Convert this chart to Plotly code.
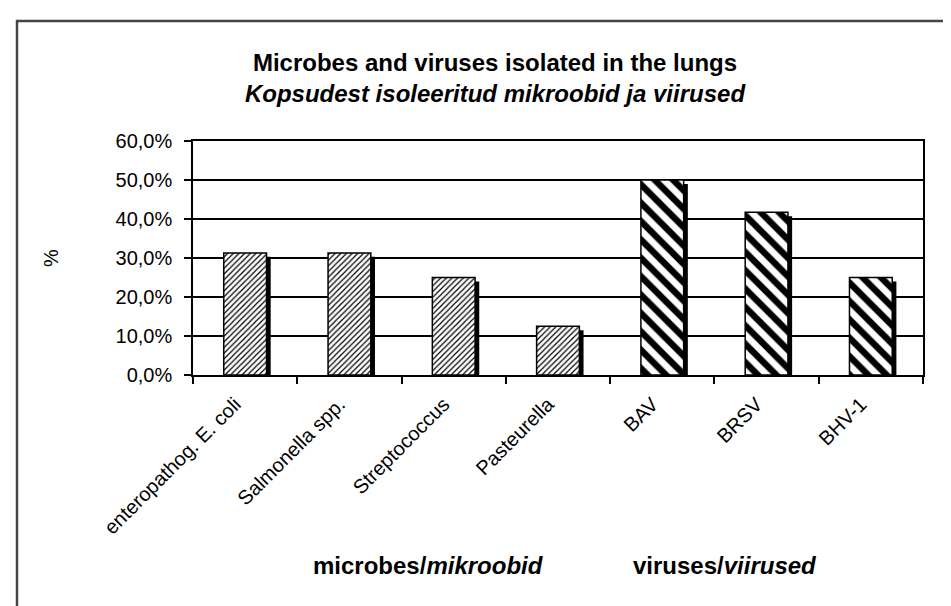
import plotly.graph_objects as go

categories = ["enteropathog. E. coli", "Salmonella spp.", "Streptococcus", "Pasteurella",
              "BAV", "BRSV", "BHV-1"]
microbe_names = ["enteropathog. E. coli", "Salmonella spp.", "Streptococcus", "Pasteurella"]
microbe_values = [0.313, 0.313, 0.250, 0.125]
virus_names = ["BAV", "BRSV", "BHV-1"]
virus_values = [0.500, 0.417, 0.250]
y_ticks = [0.0, 0.1, 0.2, 0.3, 0.4, 0.5, 0.6]

FONT = "Arial, Liberation Sans, sans-serif"
BAR_W = 0.41
SHIFT_X = 0.04    # shadow offset (category units)
SHIFT_Y = -0.01   # shadow drop (value units)

fig = go.Figure()

# shadows (drawn first, behind)
for names, vals in [(microbe_names, microbe_values), (virus_names, virus_values)]:
    fig.add_trace(go.Bar(
        x=names, y=vals, base=SHIFT_Y, width=BAR_W, offset=-BAR_W / 2 + SHIFT_X,
        marker=dict(color="black", line=dict(width=0)),
        showlegend=False, hoverinfo="skip"))

fig.add_trace(go.Bar(
    x=microbe_names, y=microbe_values, width=BAR_W, offset=-BAR_W / 2,
    marker=dict(color="white", line=dict(color="black", width=1.5),
                pattern=dict(shape="/", size=4, solidity=0.3,
                             fgcolor="black", bgcolor="white", fgopacity=1)),
    showlegend=False, name="microbes"))

fig.add_trace(go.Bar(
    x=virus_names, y=virus_values, width=BAR_W, offset=-BAR_W / 2,
    marker=dict(color="white", line=dict(color="black", width=1.5),
                pattern=dict(shape="\\", size=13, solidity=0.5,
                             fgcolor="black", bgcolor="white", fgopacity=1)),
    showlegend=False, name="viruses"))

fig.update_layout(
    width=951, height=606,
    barmode="overlay",
    separators=", ",
    paper_bgcolor="white", plot_bgcolor="white",
    margin=dict(l=185, r=36, t=133, b=239),
    font=dict(family=FONT, color="black", size=20),
    title=dict(
        text="<b>Microbes and viruses isolated in the lungs</b><br><b><i>Kopsudest isoleeritud mikroobid ja viirused</i></b>",
        x=487 / 951, xanchor="center", xref="container",
        y=1 - 63 / 606, yanchor="middle", yref="container",
        font=dict(family=FONT, size=24, color="black")),
    xaxis=dict(
        type="category", categoryorder="array", categoryarray=categories,
        tickson="boundaries", ticks="outside", ticklen=7, tickcolor="black", tickwidth=1.5,
        tickangle=-45, tickfont=dict(size=20, family=FONT),
        ticklabelshift=-10, ticklabelstandoff=8,
        showline=True, linecolor="black", linewidth=1.5, mirror=True,
        showgrid=False, range=[-0.5, len(categories) - 0.5]),
    yaxis=dict(
        range=[0, 0.6], tickvals=y_ticks, tickformat=".1%",
        ticks="outside", ticklen=7, tickcolor="black", tickwidth=1.5,
        tickfont=dict(size=20, family=FONT), ticklabelstandoff=8,
        showline=True, linecolor="black", linewidth=1.5, mirror=True,
        showgrid=True, gridcolor="black", gridwidth=1.5, zeroline=False),
    annotations=[
        dict(text="%", textangle=-90, x=-0.1945, y=0.5, xref="paper", yref="paper",
             xanchor="center", yanchor="middle", showarrow=False,
             font=dict(size=20, family=FONT)),
        dict(text="<b>microbes/<i>mikroobid</i></b>", x=(420 - 185) / 730, y=-(557 - 367) / 234,
             xref="paper", yref="paper", xanchor="center", yanchor="middle",
             showarrow=False, font=dict(size=24, family=FONT)),
        dict(text="<b>viruses/<i>viirused</i></b>", x=(717 - 185) / 730, y=-(557 - 367) / 234,
             xref="paper", yref="paper", xanchor="center", yanchor="middle",
             showarrow=False, font=dict(size=24, family=FONT)),
    ],
    shapes=[
        dict(type="rect", xref="paper", yref="paper",
             x0=(9 - 185) / 730, x1=1.2, y0=-1.2, y1=(367 - 13) / 234,
             line=dict(color="#444", width=2.5), fillcolor="rgba(0,0,0,0)", layer="below"),
    ],
)

fig.write_html("out.html")
